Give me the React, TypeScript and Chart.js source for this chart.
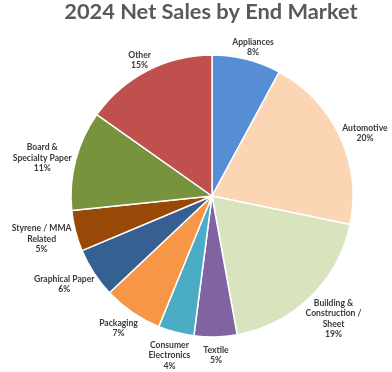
import React, { useEffect, useRef } from "react";
import { Chart, registerables } from "chart.js";

Chart.register(...registerables);

const chartTitle = "2024 Net Sales by End Market";
const categories = [
  "Appliances",
  "Automotive",
  "Building & Construction / Sheet",
  "Textile",
  "Consumer Electronics",
  "Packaging",
  "Graphical Paper",
  "Styrene / MMA Related",
  "Board & Specialty Paper",
  "Other",
];
const labelLines = [
  ["Appliances"],
  ["Automotive"],
  ["Building &", "Construction /", "Sheet"],
  ["Textile"],
  ["Consumer", "Electronics"],
  ["Packaging"],
  ["Graphical Paper"],
  ["Styrene / MMA", "Related"],
  ["Board &", "Specialty Paper"],
  ["Other"],
];
const values = [7.9, 20.3, 18.9, 4.9, 4.1, 6.8, 5.7, 4.7, 11.4, 15.2];
const colors = [
  "#558ED5",
  "#FCD5B5",
  "#D7E4BD",
  "#8064A2",
  "#4BACC6",
  "#F79646",
  "#376092",
  "#984807",
  "#77933C",
  "#C0504D",
];

const FONT = "Lato, 'Open Sans', sans-serif";

const labelPlugin = {
  id: "outsideLabels",
  afterDatasetsDraw(chart: any) {
    const ctx = chart.ctx;
    const meta = chart.getDatasetMeta(0);
    const ds = chart.data.datasets[0].data as number[];
    const total = ds.reduce((a, b) => a + b, 0);
    ctx.save();
    ctx.font = `bold 8.6px ${FONT}`;
    ctx.fillStyle = "#3A3A3A";
    ctx.textAlign = "center";
    ctx.textBaseline = "middle";
    const lh = 10.5;
    meta.data.forEach((arc: any, i: number) => {
      const { x, y, startAngle, endAngle, outerRadius } = arc.getProps(
        ["x", "y", "startAngle", "endAngle", "outerRadius"],
        true
      );
      const mid = (startAngle + endAngle) / 2;
      const ux = Math.cos(mid);
      const uy = Math.sin(mid);
      const lines = [...labelLines[i], Math.round((ds[i] / total) * 100) + "%"];
      const w = Math.max(...lines.map((l) => ctx.measureText(l).width));
      const h = lines.length * lh;
      const g = 5;
      const ax = x + (outerRadius + g) * ux;
      const ay = y + (outerRadius + g) * uy;
      const cx = ax + (ux * w) / 2;
      const cy = ay + (uy * h) / 2 + 3;
      lines.forEach((l, k) => {
        ctx.fillText(l, cx, cy - h / 2 + lh / 2 + k * lh);
      });
    });
    ctx.restore();
  },
};

const titlePlugin = {
  id: "customTitle",
  afterDraw(chart: any) {
    const ctx = chart.ctx;
    ctx.save();
    ctx.font = `bold 21.8px ${FONT}`;
    ctx.fillStyle = "#595959";
    ctx.textAlign = "center";
    ctx.textBaseline = "middle";
    ctx.fillText(chartTitle, 211, 12);
    ctx.restore();
  },
};

export default function App() {
  const ref = useRef<HTMLCanvasElement>(null);
  useEffect(() => {
    document.body.style.margin = "0";
    if (!ref.current) return;
    const chart = new Chart(ref.current, {
      type: "pie",
      data: {
        labels: categories,
        datasets: [
          {
            data: values,
            backgroundColor: colors,
            borderColor: "#FFFFFF",
            borderWidth: 1.5,
            radius: 141,
          } as any,
        ],
      },
      options: {
        responsive: false,
        animation: false,
        layout: { padding: { left: 62, right: 30, top: 46, bottom: 26 } },
        plugins: {
          legend: { display: false },
          title: { display: false },
          tooltip: { enabled: false },
        },
      },
      plugins: [labelPlugin, titlePlugin],
    });
    return () => chart.destroy();
  }, []);
  return (
    <div style={{ position: "absolute", left: 0, top: 0, width: 392, height: 372, background: "#fff" }}>
      <canvas ref={ref} width={392} height={372} />
    </div>
  );
}
